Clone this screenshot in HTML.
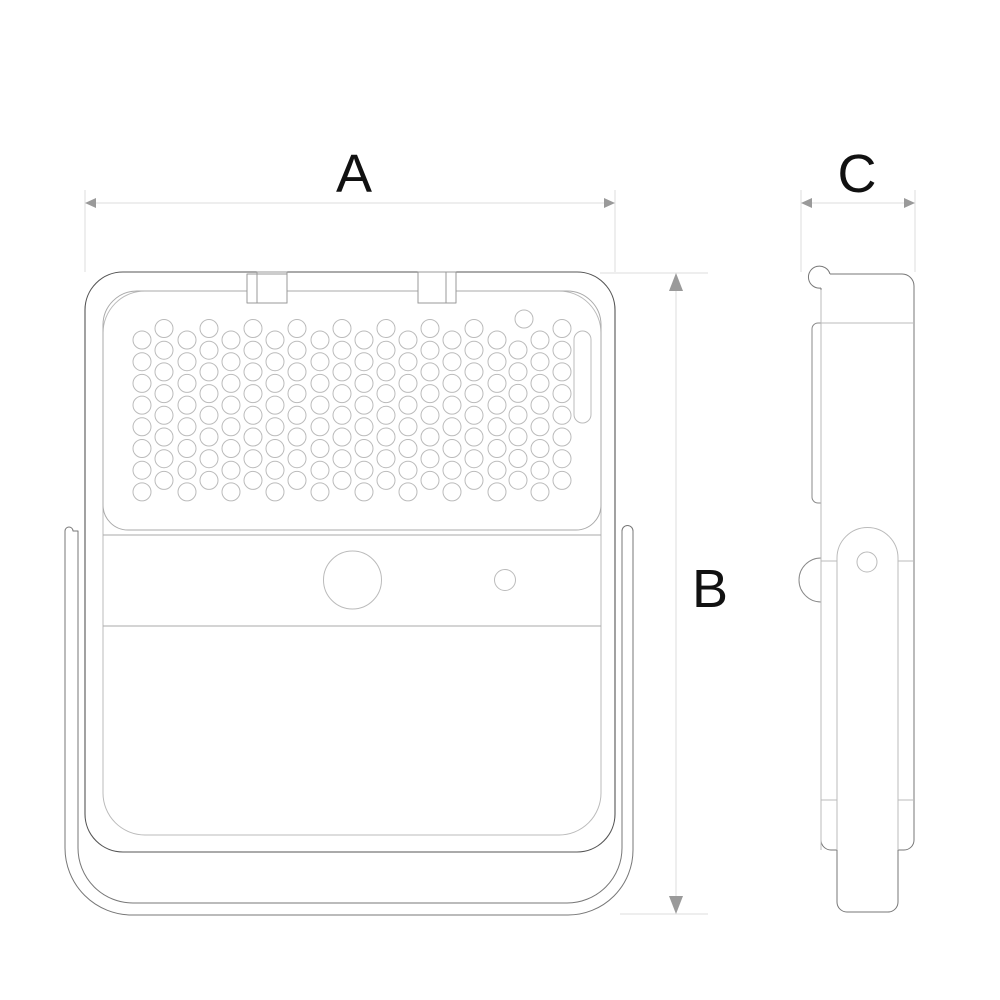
<!DOCTYPE html>
<html><head><meta charset="utf-8"><style>html,body{margin:0;padding:0;background:#fff}svg{display:block}</style></head>
<body>
<svg id="s" width="1000" height="1000" viewBox="0 0 1000 1000" xmlns="http://www.w3.org/2000/svg" fill="none" stroke-linejoin="round">
<!-- dimension lines -->
<g stroke="#dcdcdc" stroke-width="1">
<line x1="85" y1="190" x2="85" y2="272"/><line x1="615" y1="190" x2="615" y2="272"/>
<line x1="801" y1="190" x2="801" y2="272"/><line x1="915" y1="190" x2="915" y2="272"/>
<line x1="600" y1="273" x2="708" y2="273"/><line x1="620" y1="914" x2="708" y2="914"/>
<line x1="90" y1="203" x2="610" y2="203"/><line x1="806" y1="203" x2="910" y2="203"/>
<line x1="676" y1="280" x2="676" y2="906"/>
</g>
<g fill="#9a9a9a" stroke="none">
<polygon points="85,203 96,198 96,208"/><polygon points="615,203 604,198 604,208"/>
<polygon points="801,203 812,198 812,208"/><polygon points="915,203 904,198 904,208"/>
<polygon points="676,273 669,291 683,291"/><polygon points="676,914 669,896 683,896"/>
</g>
<g font-family="Liberation Sans, sans-serif" font-size="54" fill="#111" text-anchor="middle">
<text x="354" y="192">A</text><text x="857" y="192">C</text><text x="710" y="607">B</text>
</g>
<!-- front bracket -->
<path d="M65,531 A4,4 0 0 1 73,531 L78,531 L78,848 A55,55 0 0 0 133,903 L567,903 A55,55 0 0 0 622,848 L622,531 A5.5,5.5 0 0 1 633,531 L633,850 A65,65 0 0 1 568,915 L132,915 A67,67 0 0 1 65,848 Z" stroke="#777" stroke-width="1"/>
<path d="M78,531 L78,531" stroke="#777"/>
<!-- main frame -->
<rect x="85" y="272" width="530" height="580" rx="38" stroke="#555" stroke-width="1.1"/>
<rect x="103" y="291" width="498" height="544" rx="42" stroke="#bbb" stroke-width="1"/>
<path d="M103,505 L103,325 A34,34 0 0 1 137,291 L567,291 A34,34 0 0 1 601,325 L601,505 A25,25 0 0 1 576,530 L128,530 A25,25 0 0 1 103,505 Z" stroke="#aaa" stroke-width="1"/>
<line x1="103" y1="535" x2="601" y2="535" stroke="#aaa"/>
<line x1="103" y1="626" x2="601" y2="626" stroke="#aaa"/>
<circle cx="352.5" cy="580" r="29" stroke="#bbb"/>
<circle cx="505" cy="580" r="10.5" stroke="#bbb"/>
<rect x="247" y="274" width="40" height="29" stroke="#999" fill="#fff"/>
<rect x="257" y="272" width="30" height="31" stroke="#999"/>
<rect x="418" y="272" width="38" height="31" stroke="#999" fill="#fff"/>
<rect x="418" y="272" width="28" height="31" stroke="#999"/>
<rect x="574" y="331" width="17" height="92" rx="8.5" stroke="#bbb"/>
<circle cx="524" cy="319" r="9" stroke="#bbb"/>
<g id="leds" stroke="#bbb" stroke-width="1"></g>
<!-- side view -->
<g stroke="#777" stroke-width="1">
<path d="M821,288 L821,323 M821,503 L821,558 M821,602 L821,840 A10,10 0 0 0 831,850 L837,850 L837,902 A10,10 0 0 0 847,912 L888,912 A10,10 0 0 0 898,902 L898,850 L904,850 A10,10 0 0 0 914,840 L914,286 A12,12 0 0 0 902,274 L830,274"/>
<path d="M830,274 A11,11 0 1 0 821,288"/>
<path d="M821,323 L818,323 A6,6 0 0 0 812,329 L812,497 A6,6 0 0 0 818,503 L821,503" stroke="#888"/>
<path d="M821,558 A22,22 0 0 0 821,602" stroke="#888"/>
</g>
<g stroke="#bbb" stroke-width="1">
<line x1="821" y1="323" x2="914" y2="323"/>
<line x1="821" y1="561" x2="837" y2="561"/><line x1="898" y1="561" x2="914" y2="561"/>
<line x1="821" y1="800" x2="837" y2="800"/><line x1="898" y1="800" x2="914" y2="800"/>
<path d="M837,850 L837,558 A30.5,30.5 0 0 1 898,558 L898,850"/>
<line x1="821" y1="290" x2="821" y2="850"/>
<circle cx="867" cy="562" r="10"/>
</g>
</svg>
<script>
var g=document.getElementById('leds'),ns='http://www.w3.org/2000/svg';
var xs=[142,164,187,209,231,253,275,297,320,342,364,386,408,430,452,474,497,518,540,562];
for(var i=0;i<xs.length;i++){
 var y0=(i%2==0)?340:328.5,n=8;
 if(xs[i]==518){y0=350;n=7;}
 for(var j=0;j<n;j++){var c=document.createElementNS(ns,'circle');c.setAttribute('cx',xs[i]);c.setAttribute('cy',y0+j*21.7);c.setAttribute('r',9);g.appendChild(c);}
}
</script>
</body></html>
